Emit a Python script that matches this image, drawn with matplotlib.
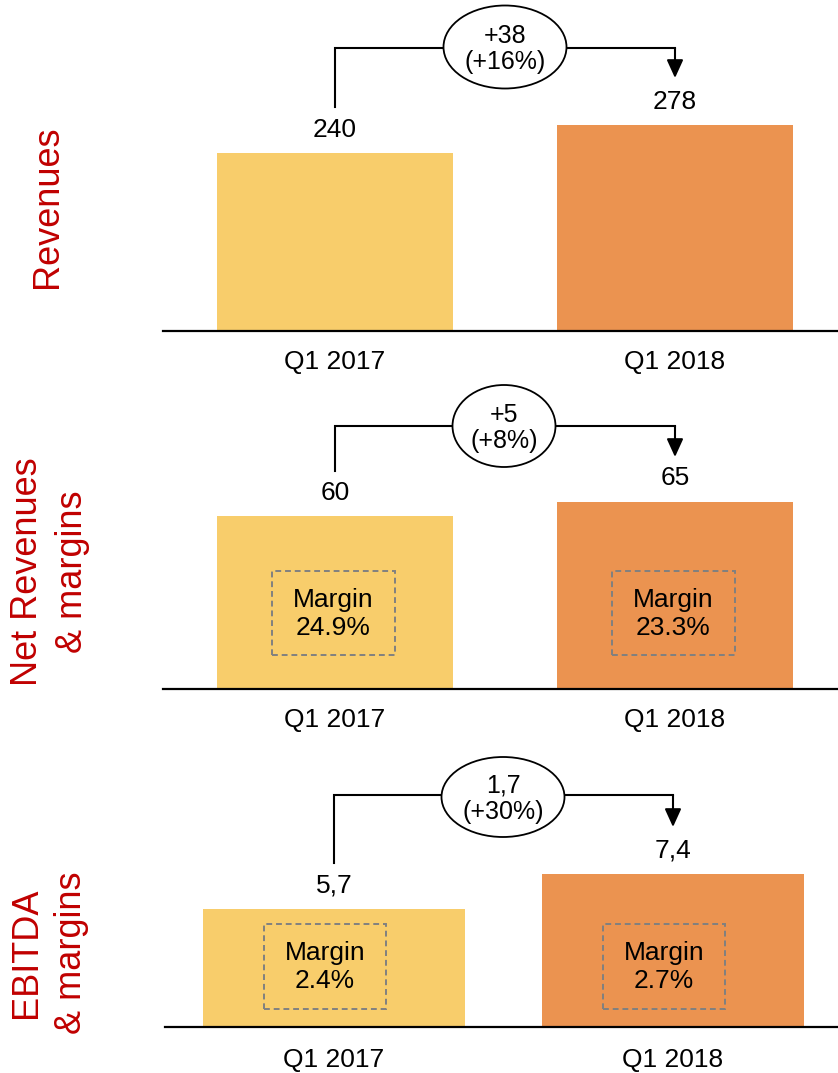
import matplotlib
matplotlib.use("Agg")
import matplotlib.pyplot as plt
from matplotlib.patches import Ellipse, Rectangle

plt.rcParams['font.family'] = ['Liberation Sans', 'DejaVu Sans']

# ---------------- data ----------------
categories = ["Q1 2017", "Q1 2018"]
revenues = [240, 278]
net_revenues = [60, 65]
ebitda = [5.7, 7.4]
revenue_labels = ["240", "278"]
net_revenue_labels = ["60", "65"]
ebitda_labels = ["5,7", "7,4"]
net_margins = ["24.9%", "23.3%"]
ebitda_margins = ["2.4%", "2.7%"]
delta_labels = ["+38\n(+16%)", "+5\n(+8%)", "1,7\n(+30%)"]
panel_titles = ["Revenues", "Net Revenues\n& margins", "EBITDA\n& margins"]

bar_colors = ["#F8CD6B", "#EB9350"]
title_color = "#C00000"

W, H = 838, 1073
fig = plt.figure(figsize=(W / 100, H / 100), dpi=100)

# layout (pixels)
panels = [
    dict(values=revenues, labels=revenue_labels, margins=None, delta=delta_labels[0],
         baseline=331, top=0, scale=178 / 240, left=163, centers=(335, 675), bw=236,
         bracket_y=48, left_bottom=107, tip=78, ell=(505, 47, 123, 83),
         box=None, title=panel_titles[0], title_xy=(47, 207), tick_pad=14),
    dict(values=net_revenues, labels=net_revenue_labels, margins=net_margins, delta=delta_labels[1],
         baseline=689, top=370, scale=173 / 60, left=163, centers=(335, 675), bw=236,
         bracket_y=426, left_bottom=471, tip=457, ell=(504, 426, 103, 82),
         box=(613, -2, 123, 84), title=panel_titles[1], title_xy=(50, 572), tick_pad=14),
    dict(values=ebitda, labels=ebitda_labels, margins=ebitda_margins, delta=delta_labels[2],
         baseline=1027, top=745, scale=118 / 5.7, left=165, centers=(334, 673), bw=262,
         bracket_y=795, left_bottom=863, tip=827, ell=(503, 797, 123, 80),
         box=(966, -9, 122, 85), title=panel_titles[2], title_xy=(49, 953), tick_pad=15),
]

for p in panels:
    c0, c1 = p["centers"]
    ux = c1 - c0  # px per x unit
    left_px = p["left"]
    hpx = p["baseline"] - p["top"]
    ax = fig.add_axes([left_px / W, (H - p["baseline"]) / H, (W - left_px) / W, hpx / H])
    ax.set_xlim((left_px - c0) / ux, 1 + (W - c1) / ux)
    ax.set_ylim(0, hpx / p["scale"])
    for s in ["top", "right", "left"]:
        ax.spines[s].set_visible(False)
    ax.spines["bottom"].set_linewidth(1.6)
    ax.spines["bottom"].set_color("black")
    ax.set_yticks([])
    x = [0, 1]
    bars = ax.bar(x, p["values"], width=p["bw"] / ux, color=bar_colors, zorder=2)
    ax.bar_label(bars, labels=p["labels"], padding=8, fontsize=19)
    ax.set_xticks(x)
    ax.set_xticklabels(categories, fontsize=19)
    ax.tick_params(axis="x", length=0, pad=p["tick_pad"])
    ax.set_facecolor("none")

    def py2d(py):
        return (p["baseline"] - py) / p["scale"]

    def px2d(px):
        return (px - c0) / ux

    # bracket
    yb = py2d(p["bracket_y"])
    ax.plot([0, 0, 1], [py2d(p["left_bottom"]), yb, yb], color="black", lw=1.5,
            solid_joinstyle="miter", zorder=3, clip_on=False)
    ax.annotate("", xy=(1, py2d(p["tip"])), xytext=(1, yb),
                arrowprops=dict(arrowstyle="-|>,head_length=1.1,head_width=0.5",
                                color="black", lw=1.5, shrinkA=0, shrinkB=0),
                zorder=3, annotation_clip=False)
    ex, ey, ew, eh = p["ell"]
    ell = Ellipse((px2d(ex), py2d(ey)), ew / ux, eh / p["scale"], facecolor="white",
                  edgecolor="black", lw=1.3, zorder=4, clip_on=False)
    ax.add_patch(ell)
    ax.text(px2d(ex), py2d(ey + 2), p["delta"], ha="center", va="center", fontsize=18,
            linespacing=1.15, zorder=5, clip_on=False)

    # margin boxes
    if p["margins"] is not None:
        box_cy, dx, bwp, bhp = p["box"]
        for i, m in enumerate(p["margins"]):
            cx = (c0 if i == 0 else c1) + dx
            rect = Rectangle((px2d(cx - bwp / 2), py2d(box_cy + bhp / 2)), bwp / ux, bhp / p["scale"],
                             facecolor="none", edgecolor="#808080", lw=1.4, ls=(0, (3, 2)), zorder=4)
            ax.add_patch(rect)
            ax.text(px2d(cx), py2d(box_cy + 1), "Margin\n" + m, ha="center", va="center",
                    fontsize=19, linespacing=1.2, zorder=5)

    tx, ty = p["title_xy"]
    fig.text(tx / W, 1 - ty / H, p["title"], rotation=90, ha="center", va="center",
             fontsize=26, color=title_color, multialignment="center", linespacing=1.35)

fig.savefig("out.png", dpi=100)
